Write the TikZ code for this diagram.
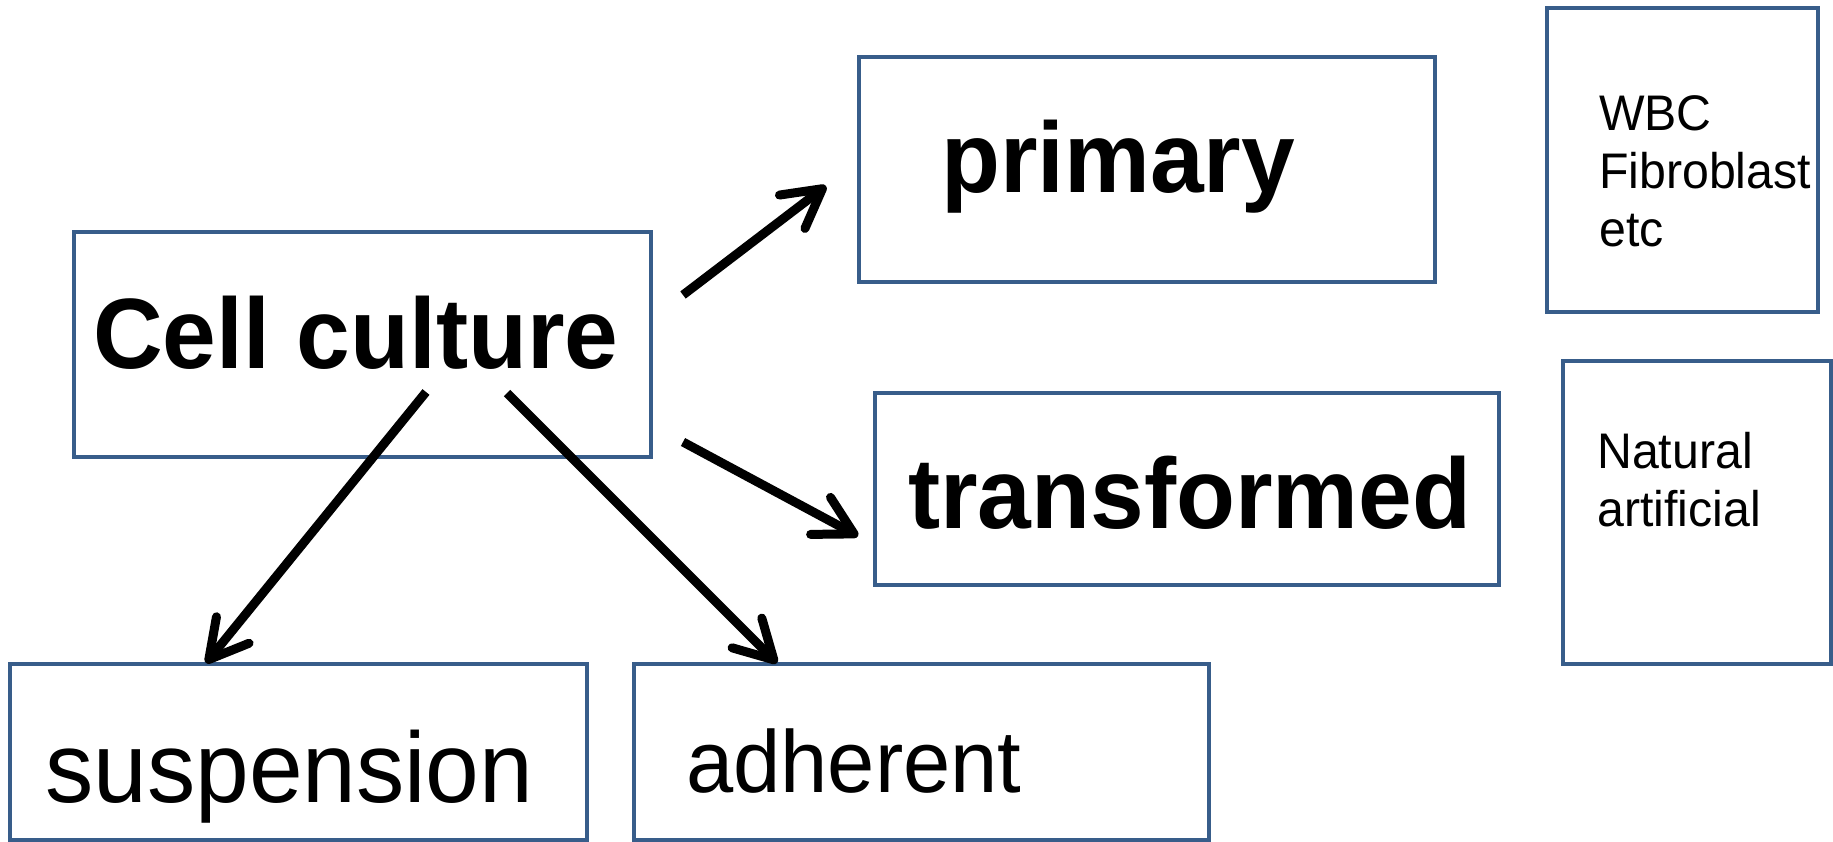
\documentclass[tikz,border=0pt]{standalone}
\usepackage{fontspec}
\setmainfont{Liberation Sans}[FakeStretch=0.965]
\usetikzlibrary{arrows.meta}
\definecolor{boxblue}{RGB}{56,93,138}
\tikzset{
	box/.style={draw=boxblue, line width=4.5pt, rectangle, inner sep=0pt},
	word/.style={anchor=base west, inner sep=0pt},
	big/.style={word, font=\fontsize{100}{110}\selectfont\bfseries},
	small/.style={word, align=left, font=\fontsize{50}{58}\selectfont},
	arr/.style={line width=9pt, -{Straight Barb[length=38pt,width=42pt,round]}}
}

\begin{document}
\begin{tikzpicture}[x=1pt,y=-1pt]
		\useasboundingbox (0,0) rectangle (1833,842);

		\draw (362.5,344.5) node [box, minimum width=577pt, minimum height=225pt] (cell) {};
		\draw (1147,169.5) node [box, minimum width=576pt, minimum height=225pt] (prim) {};
		\draw (1682.5,160) node [box, minimum width=271pt, minimum height=304pt] (wbc) {};
		\draw (1187,489) node [box, minimum width=624pt, minimum height=192pt] (trans) {};
		\draw (1697,512.5) node [box, minimum width=268pt, minimum height=303pt] (nat) {};
		\draw (298.5,752) node [box, minimum width=577pt, minimum height=176pt] (susp) {};
		\draw (921.5,752) node [box, minimum width=575pt, minimum height=176pt] (adh) {};

		\draw (93,368) node [big] (celltxt) {Cell culture};
		\draw (941,193) node [big] (primtxt) {primary};
		\draw (908,528) node [big] (transtxt) {transformed};
		\draw (45,802) node [word, font=\fontsize{100}{110}\selectfont] (susptxt) {suspension};
		\draw (686,792) node [word, font=\fontsize{88}{96}\selectfont] (adhtxt) {adherent};
		\draw (1599,247) node [small] (wbctxt) {WBC\\Fibroblast\\etc};
		\draw (1597,526) node [small] (nattxt) {Natural\\artificial};

		\coordinate (s1) at (683,295);
		\coordinate (e1) at (826,186);
		\coordinate (s2) at (683,442);
		\coordinate (e2) at (858,536);
		\coordinate (s3) at (426,392);
		\coordinate (e3) at (206,663);
		\coordinate (s4) at (507,393);
		\coordinate (e4) at (777,663);

		\draw
			(s1) edge [arr] (e1)
			(s2) edge [arr] (e2)
			(s3) edge [arr] (e3)
			(s4) edge [arr] (e4)
		;
\end{tikzpicture}
\end{document}
